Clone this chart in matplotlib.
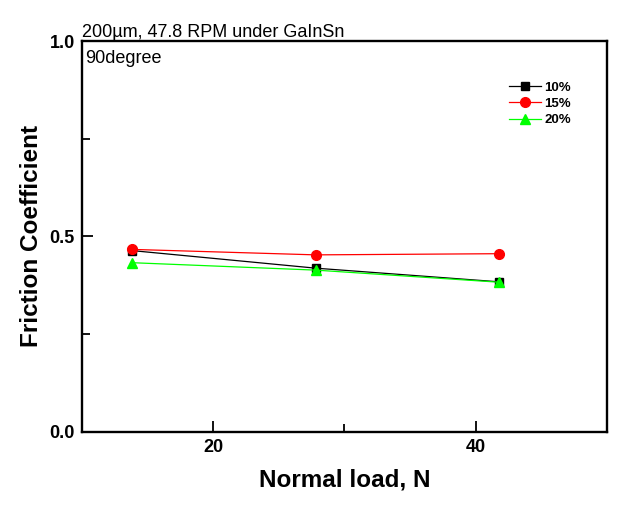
import matplotlib
matplotlib.use("Agg")
import matplotlib.pyplot as plt
from matplotlib.ticker import MultipleLocator

plt.rcParams["font.family"] = ["Liberation Sans", "DejaVu Sans"]

# data
load = [13.8, 27.8, 41.8]
mu_10 = [0.464, 0.419, 0.384]
mu_15 = [0.467, 0.453, 0.456]
mu_20 = [0.433, 0.414, 0.383]
labels = ["10%", "15%", "20%"]

fig = plt.figure(figsize=(6.35, 5.05), dpi=100)
ax = fig.add_axes([0.129, 0.1446, 0.827, 0.7742])

ax.plot(load, mu_10, color="black", marker="s", ms=6, lw=0.9, label=labels[0])
ax.plot(load, mu_15, color="#FF0000", marker="o", ms=7, lw=0.9, label=labels[1])
ax.plot(load, mu_20, color="#00FF00", marker="^", ms=7.5, lw=0.9, label=labels[2])

ax.set_xlim(10, 50)
ax.set_ylim(0, 1.0)
ax.xaxis.set_major_locator(MultipleLocator(20))
ax.xaxis.set_minor_locator(MultipleLocator(10))
ax.yaxis.set_major_locator(MultipleLocator(0.5))
ax.yaxis.set_minor_locator(MultipleLocator(0.25))
ax.yaxis.set_major_formatter(matplotlib.ticker.FormatStrFormatter("%.1f"))

for s in ax.spines.values():
    s.set_linewidth(1.7)
ax.tick_params(which="both", direction="in", top=False, right=False, width=1.3)
ax.tick_params(which="major", length=8, labelsize=13, pad=5)
ax.tick_params(which="minor", length=6)
for t in ax.get_xticklabels() + ax.get_yticklabels():
    t.set_fontweight("bold")

ax.set_xlabel("Normal load, N", fontsize=17.5, fontweight="bold", labelpad=9)
ax.set_ylabel("Friction Coefficient", fontsize=17.5, fontweight="bold", labelpad=5)
ax.set_title("200\u00b5m, 47.8 RPM under GaInSn", loc="left", fontsize=13, pad=3)
ax.text(0.006, 0.978, "90degree", transform=ax.transAxes, ha="left", va="top",
        fontsize=13)

ax.legend(loc="upper left", bbox_to_anchor=(0.813, 0.896), frameon=False,
          borderpad=0, borderaxespad=0, handlelength=2.4, handletextpad=0.3,
          labelspacing=0.3, prop={"size": 9.5, "weight": "bold"})

fig.savefig("out.png", dpi=100)
